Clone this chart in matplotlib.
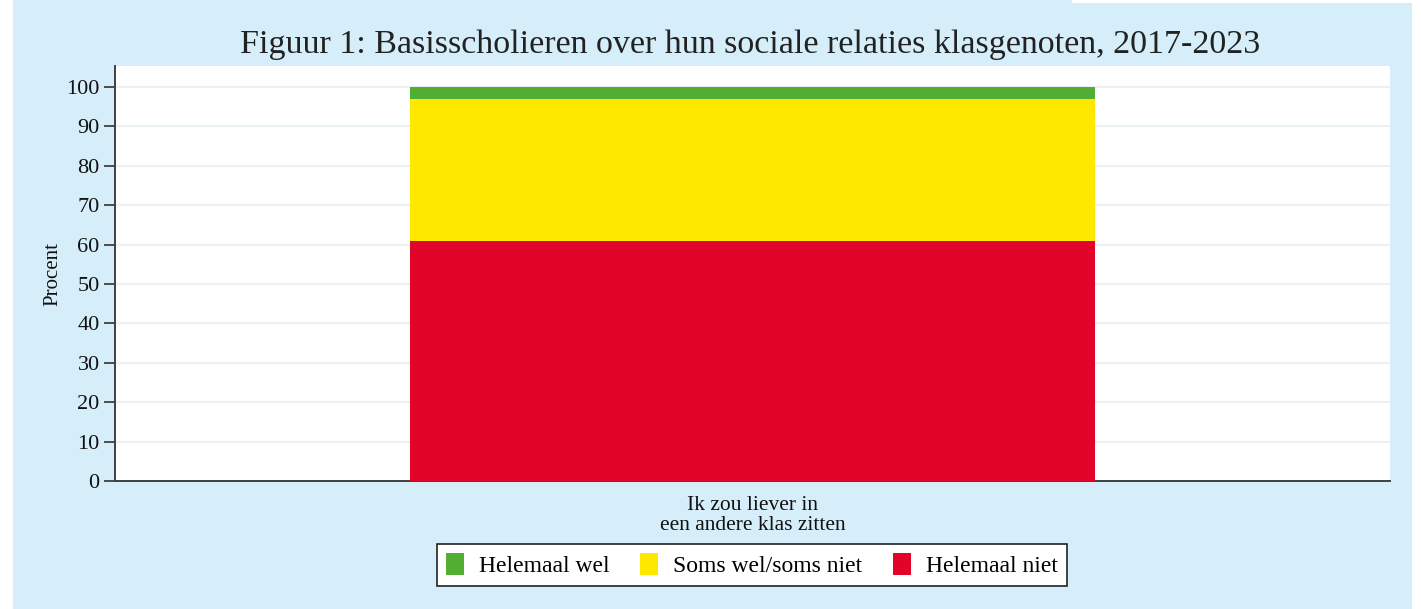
import matplotlib.pyplot as plt
from matplotlib.patches import Rectangle, Patch

# ---------------- DATA ---------------- #
categories = ["Ik zou liever in\neen andere klas zitten"]
series_names = ["Helemaal wel", "Soms wel/soms niet", "Helemaal niet"]
helemaal_niet = [61]
soms = [36]
helemaal_wel = [3]

colors = {"Helemaal wel": "#52ae32", "Soms wel/soms niet": "#ffe800", "Helemaal niet": "#e30429"}
bg = "#d6eefa"

plt.rcParams["font.family"] = ["Liberation Serif", "DejaVu Serif"]

W, H = 1421, 609
fig = plt.figure(figsize=(W / 100, H / 100), dpi=100, facecolor="white")

# light blue panel behind the chart
fig.patches.append(Rectangle((13 / W, 0), (1412 - 13) / W, 1, transform=fig.transFigure,
                             facecolor=bg, edgecolor="none", zorder=-10))
fig.patches.append(Rectangle((1072 / W, 1 - 3 / H), (W - 1072) / W, 3 / H, transform=fig.transFigure,
                             facecolor="white", edgecolor="none", zorder=-9))

ax = fig.add_axes([115 / W, 1 - 481 / H, (1390 - 115) / W, (481 - 66) / H])
ax.set_facecolor("white")

x = list(range(len(categories)))
width = 0.537
ax.bar(x, helemaal_niet, width, color=colors["Helemaal niet"], zorder=3)
ax.bar(x, soms, width, bottom=helemaal_niet, color=colors["Soms wel/soms niet"], zorder=3)
bottom2 = [a + b for a, b in zip(helemaal_niet, soms)]
ax.bar(x, helemaal_wel, width, bottom=bottom2, color=colors["Helemaal wel"], zorder=3)

ax.set_xlim(-0.5, 0.5)
ax.set_ylim(0, 105.3)
ax.set_yticks(range(0, 101, 10))
ax.set_xticks(x)
ax.set_xticklabels(categories, fontsize=15.5, linespacing=1.05, color="#111111")
ax.tick_params(axis="y", labelsize=16, length=8, width=1.3, color="#404040", pad=3,
               labelcolor="#111111")
ax.tick_params(axis="x", length=0, pad=11)
ax.yaxis.grid(True, color="#eaf2f5", linewidth=1.6, zorder=0)
ax.set_axisbelow(True)

for s in ["top", "right"]:
    ax.spines[s].set_visible(False)
for s in ["left", "bottom"]:
    ax.spines[s].set_color("#404040")
    ax.spines[s].set_linewidth(1.4)

ax.set_ylabel("Procent", fontsize=15, labelpad=3, color="#111111")

fig.text(750 / W, 1 - 45 / H, "Figuur 1: Basisscholieren over hun sociale relaties klasgenoten, 2017-2023",
         ha="center", va="center", fontsize=24.5, color="#222222")

handles = [Patch(facecolor=colors[n], edgecolor="none") for n in series_names]
leg = fig.legend(handles, series_names, loc="center", bbox_to_anchor=(752 / W, 1 - 565 / H),
                 ncol=3, fontsize=17, frameon=True, fancybox=False, edgecolor="#222222",
                 framealpha=1.0, handlelength=0.75, handleheight=1.1, handletextpad=0.65,
                 columnspacing=1.3, borderpad=0.38, borderaxespad=0)
leg.get_frame().set_linewidth(1.2)
leg.get_frame().set_facecolor("white")

fig.savefig("out.png", dpi=100, facecolor=fig.get_facecolor())
